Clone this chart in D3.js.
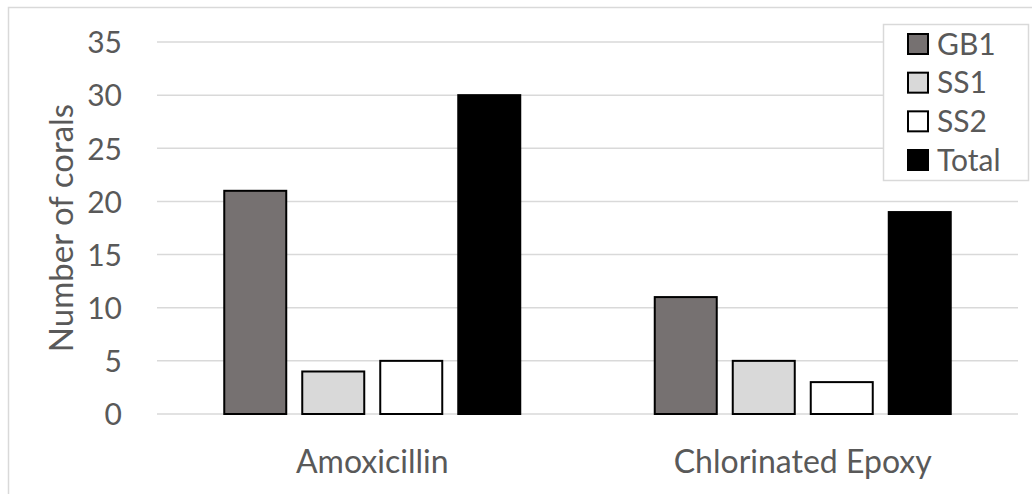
<!DOCTYPE html>
<html>
<head>
<meta charset="utf-8">
<script src="https://cdn.jsdelivr.net/npm/d3@7"></script>
<style>
  html, body { margin: 0; padding: 0; background: #fff; }
  svg { display: block; }
  text { font-family: Lato, "Open Sans", sans-serif; fill: #595959; }
</style>
</head>
<body>
<svg id="chart" width="1032" height="494"></svg>
<script>
const categories = ["Amoxicillin", "Chlorinated Epoxy"];
const seriesNames = ["GB1", "SS1", "SS2", "Total"];
const seriesColors = ["#767171", "#D9D9D9", "#FFFFFF", "#000000"];
const gb1 = [21, 11];
const ss1 = [4, 5];
const ss2 = [5, 3];
const total = [30, 19];
const yTicks = [0, 5, 10, 15, 20, 25, 30, 35];
const yTitle = "Number of corals";

const seriesValues = [gb1, ss1, ss2, total];

const svg = d3.select("#chart");

// chart area border
svg.append("rect")
  .attr("x", 8.5).attr("y", 7.5)
  .attr("width", 1200).attr("height", 800)
  .attr("fill", "none").attr("stroke", "#D9D9D9").attr("stroke-width", 1.5);

const plot = { left: 157, right: 1018, top: 42, bottom: 414 };

const y = d3.scaleLinear().domain([0, 35]).range([plot.bottom, plot.top]);
const x0 = d3.scaleBand().domain(categories).range([plot.left, plot.right]).padding(0);
const innerStep = 78;
const x1 = d3.scaleBand().domain(seriesNames)
  .range([0, innerStep * seriesNames.length])
  .paddingInner(16 / 78).paddingOuter(8 / 78);
const innerOffset = (x0.bandwidth() - innerStep * seriesNames.length) / 2;

// gridlines
svg.append("g").selectAll("line").data(yTicks).join("line")
  .attr("x1", plot.left).attr("x2", plot.right)
  .attr("y1", d => y(d)).attr("y2", d => y(d))
  .attr("stroke", "#D9D9D9").attr("stroke-width", 1.5);

// y axis labels
const yAxis = d3.axisLeft(y).tickValues(yTicks).tickSize(0).tickPadding(0);
const gy = svg.append("g").attr("transform", "translate(122,0)").call(yAxis);
gy.select(".domain").remove();
gy.selectAll("text")
  .style("font-family", "Lato, 'Open Sans', sans-serif")
  .style("font-size", "30px").attr("fill", "#595959").attr("dy", "0.36em");

// bars
const rows = [];
categories.forEach((c, ci) => {
  seriesNames.forEach((s, si) => rows.push({ c, s, si, v: seriesValues[si][ci] }));
});
svg.append("g").selectAll("rect").data(rows).join("rect")
  .attr("x", d => x0(d.c) + innerOffset + x1(d.s))
  .attr("y", d => y(d.v))
  .attr("width", x1.bandwidth())
  .attr("height", d => y(0) - y(d.v))
  .attr("fill", d => seriesColors[d.si])
  .attr("stroke", "#000").attr("stroke-width", 2);

// x axis labels
const xAxis = d3.axisBottom(x0).tickSize(0).tickPadding(0);
const gx = svg.append("g").attr("transform", "translate(0,473)").call(xAxis);
gx.select(".domain").remove();
gx.selectAll("text")
  .style("font-family", "Lato, 'Open Sans', sans-serif")
  .style("font-size", "32px").attr("fill", "#595959")
  .attr("y", 0).attr("dy", 0);

// y title
svg.append("text")
  .attr("transform", `translate(73,${(plot.top + plot.bottom) / 2}) rotate(-90)`)
  .attr("text-anchor", "middle")
  .style("font-size", "33px")
  .text(yTitle);

// legend
const lg = svg.append("g");
lg.append("rect")
  .attr("x", 883.5).attr("y", 24.5).attr("width", 145).attr("height", 156)
  .attr("fill", "#fff").attr("stroke", "#D9D9D9").attr("stroke-width", 1.5);
const legendY = d3.scalePoint().domain(seriesNames).range([44, 160]);
const items = lg.selectAll("g.item").data(seriesNames).join("g").attr("class", "item")
  .attr("transform", d => `translate(0,${legendY(d)})`);
items.append("rect")
  .attr("x", 908).attr("y", -10).attr("width", 20).attr("height", 20)
  .attr("fill", (d, i) => seriesColors[i]).attr("stroke", "#000").attr("stroke-width", 2);
items.append("text")
  .attr("x", 937).attr("y", 0).attr("dy", "0.36em")
  .style("font-size", "30px")
  .text(d => d);
</script>
</body>
</html>
